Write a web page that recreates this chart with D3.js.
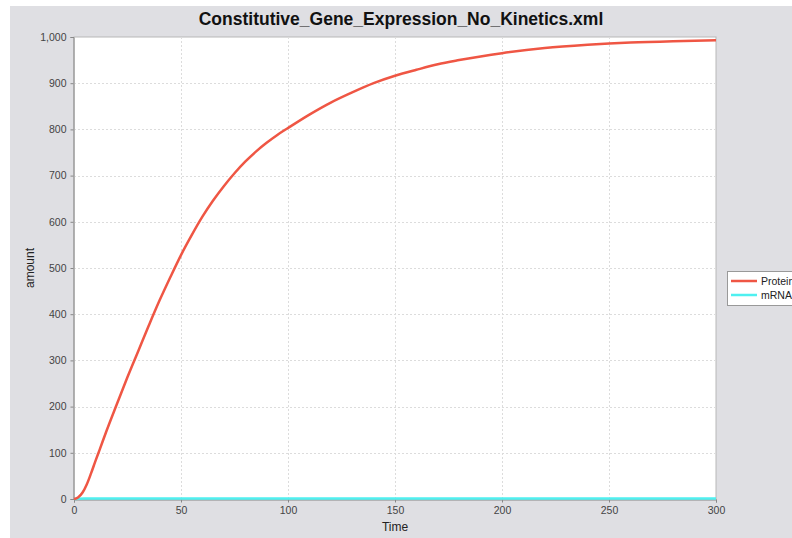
<!DOCTYPE html>
<html><head><meta charset="utf-8">
<script src="https://cdn.jsdelivr.net/npm/d3@7"></script>
<style>html,body{margin:0;padding:0;background:#fff;}svg{display:block;}</style>
</head><body>
<script>
const title = "Constitutive_Gene_Expression_No_Kinetics.xml";
const xTicks = [0, 50, 100, 150, 200, 250, 300];
const yTicks = [0, 100, 200, 300, 400, 500, 600, 700, 800, 900, 1000];
const seriesNames = ["Protein", "mRNA"];
const seriesColors = ["#ef5644", "#4ff0f0"];
const proteinTime = [0, 2, 4, 6, 8, 10, 12, 15, 20, 25, 30, 35, 40, 45, 50, 55, 60, 65, 70, 75, 80, 85, 90, 95, 100, 110, 120, 130, 140, 150, 160, 170, 180, 190, 200, 220, 240, 260, 280, 300];
const proteinAmount = [0, 4, 14, 32, 56, 82, 107, 145, 205, 264, 320, 376, 430, 480, 528, 571, 611, 646, 677, 705, 730, 752, 771, 788, 803, 832, 858, 880, 900, 916, 929, 941, 950, 958, 965, 976, 983, 988, 991, 993];
const mrnaTime = [0, 2, 5, 10, 50, 100, 150, 200, 250, 300];
const mrnaAmount = [0, 0.5, 1, 1, 1, 1, 1, 1, 1, 1];

const W = 792, H = 538;
const m = {left: 74, top: 37, right: 716, bottom: 499};
const svg = d3.select("body").append("svg").attr("width", W).attr("height", H);
svg.append("rect").attr("x", 10).attr("y", 6).attr("width", W - 10).attr("height", H - 6).attr("fill", "#dfdfe3");

const x = d3.scaleLinear().domain([0, 300]).range([m.left, m.right]);
const y = d3.scaleLinear().domain([0, 1000]).range([m.bottom, m.top]);

svg.append("rect").attr("x", m.left).attr("y", m.top).attr("width", m.right - m.left).attr("height", m.bottom - m.top)
  .attr("fill", "#fff").attr("stroke", "#b8b8b8").attr("stroke-width", 1);

// grid
svg.append("g").selectAll("line").data(xTicks.slice(1, -1)).join("line")
  .attr("x1", d => x(d) + 0.5).attr("x2", d => x(d) + 0.5).attr("y1", m.top).attr("y2", m.bottom)
  .attr("stroke", "#dcdcdc").attr("stroke-dasharray", "2,2");
svg.append("g").selectAll("line").data(yTicks.slice(1, -1)).join("line")
  .attr("y1", d => Math.round(y(d)) + 0.5).attr("y2", d => Math.round(y(d)) + 0.5).attr("x1", m.left).attr("x2", m.right)
  .attr("stroke", "#dcdcdc").attr("stroke-dasharray", "2,2");

const fmt = d3.format(",");
const xAxis = d3.axisBottom(x).tickValues(xTicks).tickSize(3).tickPadding(4).tickFormat(fmt);
const yAxis = d3.axisLeft(y).tickValues(yTicks).tickSize(3).tickPadding(4).tickFormat(fmt);
const gx = svg.append("g").attr("transform", `translate(0,${m.bottom + 0.5})`).call(xAxis);
const gy = svg.append("g").attr("transform", `translate(${m.left - 0.5},0)`).call(yAxis);
[gx, gy].forEach(g => {
  g.select(".domain").attr("stroke", "#888");
  g.selectAll(".tick line").attr("stroke", "#888");
  g.selectAll(".tick text").attr("fill", "#444").style("font-family", "Liberation Sans, Arial, sans-serif").style("font-size", "10.5px");
});

// lines
const line = d3.line().x(d => x(d[0])).y(d => y(d[1]));
svg.append("path").datum(mrnaTime.map((t, i) => [t, mrnaAmount[i]]))
  .attr("d", line).attr("fill", "none").attr("stroke", seriesColors[1]).attr("stroke-width", 2.5);
svg.append("path").datum(proteinTime.map((t, i) => [t, proteinAmount[i]]))
  .attr("d", d3.line().curve(d3.curveMonotoneX).x(d => x(d[0])).y(d => y(d[1])))
  .attr("fill", "none").attr("stroke", seriesColors[0]).attr("stroke-width", 2.5);

// title
svg.append("text").attr("x", 401).attr("y", 25).attr("text-anchor", "middle")
  .style("font-family", "Liberation Sans, Arial, sans-serif").style("font-weight", "bold").style("font-size", "17.5px")
  .attr("fill", "#111").text(title);
// axis labels
svg.append("text").attr("x", (m.left + m.right) / 2).attr("y", 531).attr("text-anchor", "middle")
  .style("font-family", "Liberation Sans, Arial, sans-serif").style("font-size", "12px").attr("fill", "#222").text("Time");
svg.append("text").attr("transform", `translate(34,${(m.top + m.bottom) / 2}) rotate(-90)`).attr("text-anchor", "middle")
  .style("font-family", "Liberation Sans, Arial, sans-serif").style("font-size", "12px").attr("fill", "#222").text("amount");

// legend
const lg = svg.append("g").attr("transform", "translate(727,271)");
lg.append("rect").attr("x", 0.5).attr("y", 0.5).attr("width", 80).attr("height", 34).attr("fill", "#fff").attr("stroke", "#999");
seriesNames.forEach((name, i) => {
  const yy = 10 + i * 14;
  lg.append("line").attr("x1", 4).attr("x2", 30).attr("y1", yy).attr("y2", yy).attr("stroke", seriesColors[i]).attr("stroke-width", 2.5);
  lg.append("text").attr("x", 34).attr("y", yy + 3.5).style("font-family", "Liberation Sans, Arial, sans-serif")
    .style("font-size", "10.5px").attr("fill", "#222").text(name);
});
</script>
</body></html>
